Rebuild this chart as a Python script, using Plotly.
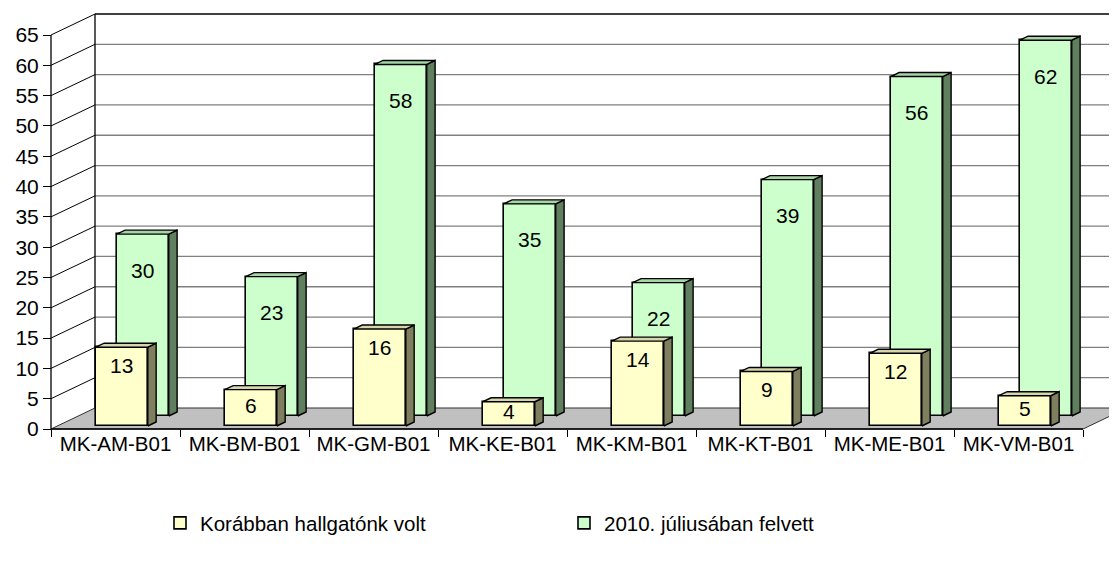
import plotly.graph_objects as go

categories = ["MK-AM-B01", "MK-BM-B01", "MK-GM-B01", "MK-KE-B01",
              "MK-KM-B01", "MK-KT-B01", "MK-ME-B01", "MK-VM-B01"]
korabban = [13, 6, 16, 4, 14, 9, 12, 5]
felvett = [30, 23, 58, 35, 22, 39, 56, 62]
series_names = ["Korábban hallgatónk volt", "2010. júliusában felvett"]
y_ticks = list(range(0, 70, 5))

# ---- geometry of the fake 3D projection (pixel scale of axes) ----
OFF = 8                 # page body margin offset
W, H = 1117 - OFF, 565 - OFF
PX_CAT = 129.0          # px per category
PX_VAL = 6.0615         # px per value unit
FRONT_X0, FRONT_Y0 = 51 - OFF, 429 - OFF   # (x=-0.5, y=0) front corner
PLOT_L, PLOT_T, PLOT_B = 45 - OFF, 8 - OFF + 2, 433 - OFF
DEPTH_DX, DEPTH_DY = 44, 21    # px depth offset of back wall
DXu = DEPTH_DX / PX_CAT
DYu = DEPTH_DY / PX_VAL
BW = 52 / PX_CAT               # bar front width

x_lo = -0.5 - (FRONT_X0 - PLOT_L) / PX_CAT
x_hi = -0.5 + (W - FRONT_X0) / PX_CAT
y_lo = -(PLOT_B - FRONT_Y0) / PX_VAL
y_hi = (FRONT_Y0 - PLOT_T) / PX_VAL

YMAX = y_ticks[-1]
NCAT = len(categories)


def P(x, v, z):
    return x + z * DXu, v + z * DYu


FONT = "Liberation Sans, Arial, sans-serif"

series = [
    dict(name=series_names[0], vals=korabban, z0=3 / 21, z1=7 / 21,
         front="#FFFFCC", side="#7F7F60", top="#D6D6AA", lab_shift=18),
    dict(name=series_names[1], vals=felvett, z0=13 / 21, z1=17 / 21,
         front="#CCFFCC", side="#5F7F5F", top="#A6D6A6", lab_shift=36),
]

fig = go.Figure()
shapes = []
annotations = []

# back wall fill
xl, xr = -0.5, NCAT - 0.5
bw_pts = [P(xl, 0, 1), P(xr, 0, 1), P(xr, YMAX, 1), P(xl, YMAX, 1)]
path = "M " + " L ".join(f"{a},{b}" for a, b in bw_pts) + " Z"
shapes.append(dict(type="path", path=path, xref="x", yref="y", layer="below",
                   fillcolor="white", line=dict(width=0)))
# back wall gridlines
for v in y_ticks[1:-1]:
    a = P(xl, v, 1); b = P(xr, v, 1)
    shapes.append(dict(type="line", x0=a[0], y0=a[1], x1=b[0], y1=b[1], xref="x", yref="y",
                       layer="below", line=dict(color="#808080", width=1.3)))
# back wall top and left edge
a = P(xl, YMAX, 1); b = P(xr, YMAX, 1)
shapes.append(dict(type="line", x0=a[0], y0=a[1], x1=b[0], y1=b[1], xref="x", yref="y",
                   layer="below", line=dict(color="black", width=1.3)))
a = P(xl, 0, 1); b = P(xl, YMAX, 1)
shapes.append(dict(type="line", x0=a[0], y0=a[1], x1=b[0], y1=b[1], xref="x", yref="y",
                   layer="below", line=dict(color="black", width=1.3)))
# left wall diagonals
for v in y_ticks[1:]:
    a = P(xl, v, 0); b = P(xl, v, 1)
    shapes.append(dict(type="line", x0=a[0], y0=a[1], x1=b[0], y1=b[1], xref="x", yref="y",
                       layer="below", line=dict(color="black", width=1)))
# floor
fl_pts = [P(xl, 0, 0), P(xr, 0, 0), P(xr, 0, 1), P(xl, 0, 1)]
path = "M " + " L ".join(f"{a},{b}" for a, b in fl_pts) + " Z"
shapes.append(dict(type="path", path=path, xref="x", yref="y", layer="below",
                   fillcolor="#C0C0C0", line=dict(color="#303030", width=1)))
a = P(xl, 0, 0); b = P(xr, 0, 0)
shapes.append(dict(type="line", x0=a[0], y0=a[1], x1=b[0], y1=b[1], xref="x", yref="y",
                   layer="below", line=dict(color="black", width=1.5)))
# front value axis line
shapes.append(dict(type="line", x0=xl, y0=0, x1=xl, y1=YMAX, xref="x", yref="y",
                   layer="below", line=dict(color="black", width=1.3)))

# bars: back row first (green), then front row (yellow)
for s in reversed(series):
    z0, z1 = s["z0"], s["z1"]
    xs_front = [i + z0 * DXu for i in range(NCAT)]
    fig.add_trace(go.Bar(
        x=xs_front, y=s["vals"], base=z0 * DYu, width=BW, name=s["name"],
        marker=dict(color=s["front"], line=dict(color="black", width=1.6)),
        showlegend=True, hoverinfo="skip"))
    sx, sy, tx, ty = [], [], [], []
    for i, v in enumerate(s["vals"]):
        r = i + BW / 2
        l = i - BW / 2
        for pt in [P(r, 0, z0), P(r, 0, z1), P(r, v, z1), P(r, v, z0), P(r, 0, z0)]:
            sx.append(pt[0]); sy.append(pt[1])
        sx.append(None); sy.append(None)
        for pt in [P(l, v, z0), P(r, v, z0), P(r, v, z1), P(l, v, z1), P(l, v, z0)]:
            tx.append(pt[0]); ty.append(pt[1])
        tx.append(None); ty.append(None)
        fx, fy = P(i, v, z0)
        shift = min(s["lab_shift"], v * PX_VAL / 2 - 2)
        annotations.append(dict(x=fx, y=fy, xref="x", yref="y", text=str(v),
                                showarrow=False, yshift=-shift,
                                font=dict(family=FONT, size=21, color="black")))
    fig.add_trace(go.Scatter(x=sx, y=sy, mode="lines", fill="toself",
                             fillcolor=s["side"], line=dict(color="black", width=1.4),
                             showlegend=False, hoverinfo="skip"))
    fig.add_trace(go.Scatter(x=tx, y=ty, mode="lines", fill="toself",
                             fillcolor=s["top"], line=dict(color="black", width=1.4),
                             showlegend=False, hoverinfo="skip"))

plot_w = W - PLOT_L
plot_h = PLOT_B - PLOT_T
fig.update_layout(
    width=W, height=H,
    margin=dict(l=PLOT_L, r=0, t=PLOT_T, b=H - PLOT_B, autoexpand=False),
    paper_bgcolor="white", plot_bgcolor="rgba(0,0,0,0)",
    font=dict(family=FONT, size=20, color="black"),
    barmode="overlay", bargap=0,
    shapes=shapes, annotations=annotations,
    showlegend=True,
    legend=dict(orientation="h", x=(160 - OFF - PLOT_L) / plot_w,
                y=-(523 - OFF - PLOT_B) / plot_h,
                xanchor="left", yanchor="middle",
                entrywidth=359, traceorder="reversed",
                font=dict(family=FONT, size=20.5, color="black"),
                bgcolor="rgba(0,0,0,0)"),
    xaxis=dict(range=[x_lo, x_hi], showgrid=False, zeroline=False, showline=False,
               tickmode="array", tickvals=list(range(NCAT)), ticktext=categories,
               ticks="", anchor="free", automargin=False,
               position=(PLOT_B - FRONT_Y0) / plot_h,
               tickfont=dict(family=FONT, size=20.5, color="black"),
               minor=dict(tickmode="array", tickvals=[i - 0.5 for i in range(NCAT + 1)],
                          ticks="outside", ticklen=7, tickcolor="black", tickwidth=1,
                          showgrid=False),
               fixedrange=True),
    yaxis=dict(range=[y_lo, y_hi], showgrid=False, zeroline=False, showline=False,
               tickmode="array", tickvals=y_ticks, ticks="outside", ticklen=8,
               tickcolor="black", tickwidth=1, anchor="free", automargin=False,
               position=(FRONT_X0 - PLOT_L) / plot_w,
               tickfont=dict(family=FONT, size=21, color="black"),
               fixedrange=True),
)

fig.write_html("out.html")
